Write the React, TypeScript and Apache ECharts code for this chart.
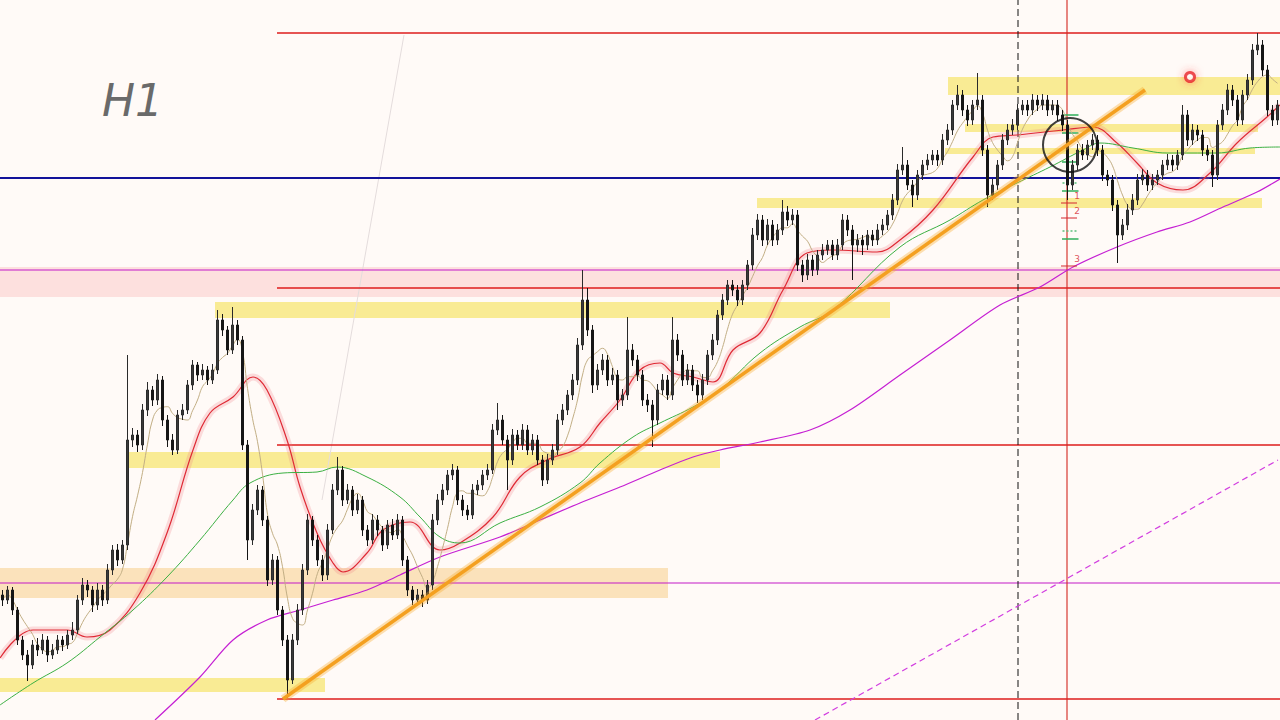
import React, { useEffect, useRef } from "react";
import * as echarts from "echarts";

// H1 candles: [open, close, low, high]
const candles: number[][] = [
  [405,400,394,410],[400,410,396,414],[410,390,385,413],[390,360,355,393],[360,345,340,364],
  [345,335,319,350],[335,355,331,360],[355,350,344,362],[350,360,346,366],[360,345,338,364],
  [345,350,341,356],[350,360,346,365],[360,355,349,364],[355,365,351,370],[365,370,360,378],
  [370,400,366,405],[400,415,395,422],[415,410,403,420],[410,395,388,414],[395,410,390,417],
  [410,400,394,415],[400,430,396,436],[430,450,425,455],[450,440,434,456],[440,455,436,460],
  [455,560,450,645],[560,565,553,572],[565,555,548,570],[555,590,550,596],[590,610,584,618],
  [610,600,594,614],[600,620,595,626],[620,580,574,624],[580,560,553,585],[560,550,545,566],
  [550,585,546,590],[585,590,580,596],[590,615,586,620],[615,635,610,640],[635,625,619,638],
  [625,630,620,636],[630,620,615,634],[620,630,616,636],[630,680,626,690],[680,670,664,686],
  [670,650,645,674],[650,675,646,693],[675,660,655,680],[660,555,550,664],[555,460,440,560],
  [460,490,455,496],[490,510,485,515],[510,480,474,514],[480,420,414,484],[420,440,415,446],
  [440,390,385,444],[390,360,354,394],[360,320,302,365],[320,360,316,366],[360,390,355,396],
  [390,430,385,436],[430,480,425,486],[480,460,454,484],[460,440,434,465],[440,425,419,445],
  [425,470,420,476],[470,510,466,516],[510,530,505,543],[530,500,494,534],[500,510,496,516],
  [510,490,484,514],[490,500,486,506],[500,470,464,504],[470,460,454,475],[460,480,456,486],
  [480,470,464,485],[470,455,449,474],[455,475,451,480],[475,465,460,481],[465,480,461,486],
  [480,440,434,484],[440,410,404,444],[410,400,395,414],[400,405,396,411],[405,400,393,410],
  [400,415,396,420],[415,480,410,486],[480,500,475,506],[500,510,495,516],[510,525,505,530],
  [525,530,520,536],[530,500,495,534],[500,490,484,505],[490,485,480,495],[485,510,481,516],
  [510,515,505,520],[515,525,510,530],[525,530,520,536],[530,570,526,576],[570,580,565,597],
  [580,560,555,585],[560,540,510,565],[540,565,535,571],[565,555,550,570],[555,570,550,576],
  [570,550,545,575],[550,560,545,566],[560,540,535,565],[540,520,514,545],[520,540,516,546],
  [540,550,535,556],[550,580,545,586],[580,590,575,596],[590,605,585,610],[605,620,600,626],
  [620,655,615,662],[655,700,650,730],[700,670,664,712],[670,615,607,675],[615,630,610,636],
  [630,640,625,646],[640,620,614,645],[620,625,615,632],[625,600,590,630],[600,605,594,611],
  [605,650,600,683],[650,640,634,656],[640,625,619,645],[625,600,594,630],[600,595,588,606],
  [595,580,553,600],[580,610,575,616],[610,620,605,626],[620,605,600,625],[605,660,600,683],
  [660,645,639,666],[645,620,614,650],[620,630,615,636],[630,615,609,635],[615,605,597,620],
  [605,620,600,626],[620,645,615,650],[645,660,640,666],[660,685,655,690],[685,700,680,706],
  [700,715,695,720],[715,710,704,720],[710,700,694,715],[700,715,695,720],[715,735,710,740],
  [735,765,730,772],[765,780,760,786],[780,760,754,785],[760,775,755,781],[775,760,754,780],
  [760,770,755,776],[770,788,765,800],[788,780,774,794],[780,785,775,791],[785,735,729,790],
  [735,725,718,740],[725,740,720,746],[740,730,724,745],[730,745,725,750],[745,750,740,756],
  [750,755,745,760],[755,745,740,760],[745,755,740,761],[755,780,750,786],[780,770,764,785],
  [770,755,720,775],[755,760,748,766],[760,755,745,765],[755,765,750,770],[765,760,754,770],
  [760,770,755,776],[770,775,765,781],[775,785,770,790],[785,800,780,806],[800,830,795,836],
  [830,835,825,853],[835,815,810,840],[815,805,793,820],[805,825,800,830],[825,835,820,840],
  [835,840,830,846],[840,845,835,850],[845,840,834,850],[840,860,835,866],[860,870,855,876],
  [870,895,865,900],[895,905,890,915],[905,890,884,910],[890,880,874,895],[880,895,875,900],
  [895,900,890,927],[900,850,844,905],[850,805,793,855],[805,815,800,821],[815,835,810,840],
  [835,860,830,866],[860,870,855,876],[870,875,865,881],[875,890,870,896],[890,895,885,900],
  [895,890,884,900],[890,900,885,906],[900,895,889,905],[895,900,890,906],[900,890,884,905],
  [890,895,885,900],[895,885,879,900],[885,875,869,890],[875,815,800,880],[815,835,810,840],
  [835,850,830,856],[850,845,840,856],[845,855,840,860],[855,860,850,866],[860,850,844,865],
  [850,825,819,855],[825,820,814,830],[820,795,789,825],[795,765,737,800],[765,775,760,781],
  [775,790,770,796],[790,800,785,806],[800,820,795,826],[820,825,815,831],[825,815,809,830],
  [815,820,810,826],[820,825,815,830],[825,835,820,840],[835,840,830,846],[840,835,829,845],
  [835,845,830,850],[845,885,840,895],[885,860,854,890],[860,870,855,876],[870,865,859,875],
  [865,850,844,870],[850,845,839,855],[845,825,813,850],[825,875,820,880],[875,890,870,896],
  [890,910,885,916],[910,900,894,915],[900,880,874,905],[880,905,875,910],[905,920,900,926],
  [920,950,915,956],[950,955,945,967],[955,930,924,960],[930,890,884,935],[890,880,874,895],
  [880,895,875,900],
];

// Moving averages: [bar index, price]
const maRed: number[][] = [
  [-0.5,342],[6.1,370],[12.9,370],[16.9,363],[21.5,370],[27.5,407],[32.9,467],[38.1,550],
  [41.5,587],[46.1,603],[50.1,623],[52.9,610],[56.9,560],[59.5,513],[62.9,467],[66.1,437],
  [68.1,428],[72.9,447],[76.1,470],[81.5,478],[87.5,450],[91.5,457],[98.1,483],[103.5,523],
  [108.9,540],[115.5,553],[119.5,577],[123.5,600],[127.5,630],[131.5,637],[134.1,627],
  [138.1,623],[142.1,618],[146.1,650],[151.5,667],[156.1,710],[160.9,747],[166.1,750],
  [174.9,748],[179.5,760],[186.1,790],[194.1,843],[198.1,863],[202.9,865],[212.1,870],
  [218.1,873],[222.9,857],[226.9,837],[230.9,817],[236.1,810],[241.5,827],[246.9,857],
  [252.9,883],[255.5,895],
];
const maGreen: number[][] = [
  [-0.5,295],[6.1,317],[12.9,337],[19.5,363],[26.1,390],[32.9,423],[39.5,460],[46.1,500],
  [49.5,517],[56.1,527],[62.9,528],[66.9,533],[72.9,523],[79.5,503],[83.5,483],[87.5,463],
  [91.5,457],[99.5,477],[107.5,493],[115.5,517],[119.5,537],[126.1,563],[131.5,577],
  [138.1,593],[143.5,610],[151.5,647],[159.5,673],[166.1,690],[179.5,753],[189.5,780],
  [196.1,800],[202.9,817],[209.5,833],[216.1,850],[219.5,857],[226.1,852],[232.9,847],
  [242.9,847],[249.5,852],[255.5,853],
];
const maMagenta: number[][] = [
  [30.5,280],[39.5,323],[46.1,360],[52.9,380],[59.5,390],[66.1,400],[72.9,410],[79.5,425],
  [87.5,443],[99.5,463],[107.5,480],[115.5,497],[123.5,513],[131.5,530],[138.1,543],
  [143.5,550],[151.5,558],[161.5,570],[169.5,590],[179.5,625],[189.5,660],[199.5,695],
  [207.5,713],[214.1,733],[222.9,753],[230.9,768],[237.5,778],[244.1,793],[250.9,808],
  [255.5,821],
];

// Levels (prices) and zones [fromIndex, toIndex, lowPrice, highPrice]
const redLevels = [967, 712, 555, 301];
const redLevelStart = 54.9;
const blueLevel = 822;
const magentaLevels = [730, 417];
const yellowZones: number[][] = [
  [189.1, 255.5, 905, 923],
  [192.5, 251.1, 868, 876],
  [188.5, 250.5, 846, 852],
  [150.9, 251.9, 792, 802],
  [42.5, 177.5, 682, 698],
  [24.9, 143.5, 532, 548],
  [-0.5, 64.5, 308, 322],
];
const peachZone = [-0.5, 133.1, 402, 432];
const pinkZone = [-0.5, 255.5, 703, 733];
const trendLine: number[][] = [[56.1, 301], [228.5, 910]];
const greyRay: number[][] = [[63.9, 500], [80.3, 965]];
const dashedRay: number[][] = [[162.5, 280], [255.1, 540]];
const dashedVertical = 203.1;
const redVertical = 212.9;
const circleMark = [213.5, 855];
const redDot = [237.5, 923];
const fibLevels = [797, 782, 734];
const fibLabels = ["1", "2", "3"];
const fibSpan = [211.7, 214.9];
const greenTicks = [885, 867, 838, 809, 761];
const greenDots = [817, 769];
const timeframe = "H1";

const Y_MIN = 280;
const Y_MAX = 1000;
const X_MIN = -0.5;

export default function App() {
  const ref = useRef<HTMLDivElement>(null);
  useEffect(() => {
    if (!ref.current) return;
    const chart = echarts.init(ref.current, undefined, { renderer: "svg" });
    const n = candles.length;
    const xMax = n - 0.5;
    const closes = candles.map((c) => c[1]);
    const fast = closes.map((_, i) => {
      const from = Math.max(0, i - 5);
      const s = closes.slice(from, i + 1);
      return +(s.reduce((a, b) => a + b, 0) / s.length).toFixed(1);
    });

    const seg = (name: string, data: number[][], color: string, width: number, type: any = "solid", z = 2, opacity = 1) => ({
      name,
      type: "line",
      xAxisIndex: 1,
      data,
      symbol: "none",
      silent: true,
      z,
      lineStyle: { color, width, type, opacity },
    });

    const series: any[] = [];

    // zones holder
    series.push({
      type: "line",
      xAxisIndex: 1,
      data: [[X_MIN, Y_MIN]],
      symbol: "none",
      lineStyle: { opacity: 0 },
      z: 0,
      silent: true,
      markArea: {
        silent: true,
        data: [
          [
            { coord: [pinkZone[0], pinkZone[3]], itemStyle: { color: "#fde0de" } },
            { coord: [pinkZone[1], pinkZone[2]] },
          ],
          [
            { coord: [peachZone[0], peachZone[3]], itemStyle: { color: "#fbe2bb" } },
            { coord: [peachZone[1], peachZone[2]] },
          ],
          ...yellowZones.map((z) => [
            { coord: [z[0], z[3]], itemStyle: { color: "#f9eb94" } },
            { coord: [z[1], z[2]] },
          ]),
        ],
      },
    });

    redLevels.forEach((p, i) =>
      series.push(seg("red" + i, [[redLevelStart, p], [xMax, p]], "#de1c1c", 1.4, "solid", 2))
    );
    series.push(seg("blue", [[X_MIN, blueLevel], [xMax, blueLevel]], "#12129a", 2, "solid", 2));
    magentaLevels.forEach((p, i) =>
      series.push(seg("mag" + i, [[X_MIN, p], [xMax, p]], "#c418c8", 1.1, "solid", 2))
    );
    series.push(seg("vdash", [[dashedVertical, Y_MIN], [dashedVertical, Y_MAX]], "#111", 1, [7, 4], 2));
    series.push(seg("vred", [[redVertical, Y_MIN], [redVertical, Y_MAX]], "#d3261f", 1.1, "solid", 2));
    series.push(seg("grey", greyRay, "#e4dcdc", 1, "solid", 1));
    series.push(seg("dashRay", dashedRay, "#d23ee0", 1.2, [6, 4], 2));

    // fib markers
    fibLevels.forEach((p, i) =>
      series.push(seg("fib" + i, [[fibSpan[0], p], [fibSpan[1], p]], "#d3262f", 1, "solid", 4))
    );
    greenTicks.forEach((p, i) =>
      series.push(seg("gt" + i, [[fibSpan[0] + 0.2, p], [fibSpan[1] + 0.3, p]], "#2fae5a", 1.5, "solid", 4))
    );
    greenDots.forEach((p, i) =>
      series.push(seg("gd" + i, [[fibSpan[0] + 0.3, p], [fibSpan[1], p]], "#5cbf7c", 1.5, [2, 2], 4))
    );
    series.push({
      type: "scatter",
      xAxisIndex: 1,
      symbolSize: 0,
      z: 5,
      silent: true,
      data: fibLevels.map((p, i) => ({
        value: [fibSpan[1], p],
        label: {
          show: true,
          formatter: fibLabels[i],
          position: "top",
          color: "#d3262f",
          fontSize: 9,
          fontFamily: "DejaVu Sans",
          offset: [0, 2],
        },
      })),
    });

    // MAs
    series.push({ ...seg("ribbon", maRed, "rgba(238,120,130,0.24)", 7, "solid", 3), smooth: 0.4 });
    series.push({ ...seg("maRed", maRed, "#df2a35", 1.2, "solid", 3), smooth: 0.4 });
    series.push({ ...seg("maGreen", maGreen, "#3cb043", 1, "solid", 3), smooth: 0.4 });
    series.push({ ...seg("maMag", maMagenta, "#c51fd3", 1.2, "solid", 3), smooth: 0.3 });

    // trend line
    series.push(seg("trendGlow", trendLine, "rgba(247,170,40,0.35)", 8, "solid", 6));
    series.push(seg("trend", trendLine, "#f4a020", 3.5, "solid", 6));

    // candles
    series.push({
      type: "candlestick",
      xAxisIndex: 0,
      data: candles,
      barWidth: 3,
      z: 5,
      silent: true,
      itemStyle: {
        color: "#3a3a3a",
        color0: "#151515",
        borderColor: "#2a2a2a",
        borderColor0: "#151515",
        borderWidth: 1,
      },
    });
    series.push({
      type: "line",
      xAxisIndex: 0,
      data: fast,
      symbol: "none",
      smooth: 0.5,
      z: 5,
      silent: true,
      lineStyle: { color: "#c2ae84", width: 1 },
    });

    // circle + red dot
    series.push({
      type: "scatter",
      xAxisIndex: 1,
      z: 7,
      silent: true,
      data: [circleMark],
      symbol: "circle",
      symbolSize: 54,
      itemStyle: { color: "rgba(0,0,0,0)", borderColor: "#111", borderWidth: 2 },
    });
    series.push({
      type: "scatter",
      xAxisIndex: 1,
      z: 7,
      silent: true,
      data: [redDot],
      symbol: "circle",
      symbolSize: 9,
      itemStyle: {
        color: "#ffffff",
        borderColor: "#e8232a",
        borderWidth: 3,
        shadowBlur: 8,
        shadowColor: "rgba(255,60,60,0.6)",
      },
    });

    chart.setOption({
      animation: false,
      backgroundColor: "#fffaf7",
      grid: { left: 0, right: 0, top: 0, bottom: 0 },
      xAxis: [
        {
          type: "category",
          data: candles.map((_, i) => String(i)),
          boundaryGap: true,
          show: false,
        },
        { type: "value", min: X_MIN, max: xMax, show: false },
      ],
      yAxis: { type: "value", min: Y_MIN, max: Y_MAX, show: false, splitLine: { show: false } },
      graphic: [
        {
          type: "text",
          left: 102,
          top: 78,
          style: {
            text: timeframe,
            fill: "#6a6a6a",
            font: "oblique 44px 'DejaVu Sans'",
          },
        },
      ],
      series,
    });
    return () => chart.dispose();
  }, []);

  return (
    <div
      ref={ref}
      style={{ position: "fixed", left: 0, top: 0, width: 1280, height: 720 }}
    />
  );
}
